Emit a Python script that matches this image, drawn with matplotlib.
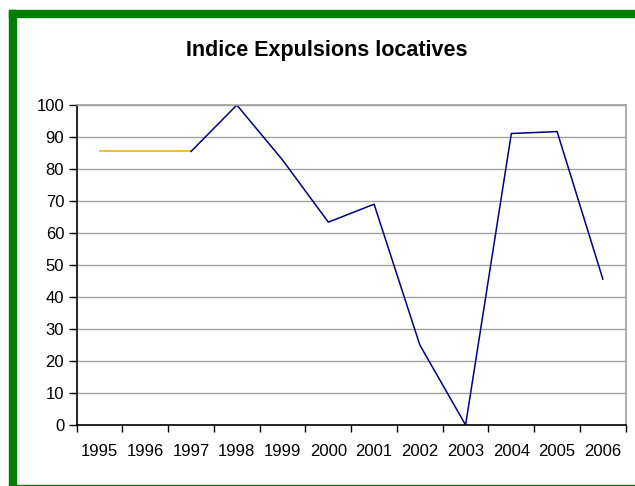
import matplotlib.pyplot as plt
from matplotlib.patches import Rectangle

plt.rcParams['font.family'] = ['Liberation Sans', 'DejaVu Sans']

years = ['1995', '1996', '1997', '1998', '1999', '2000',
         '2001', '2002', '2003', '2004', '2005', '2006']
# flat start segment (orange) and measured index (navy)
base_years = ['1995', '1996', '1997']
base_vals = [85.5, 85.5, 85.5]
idx_years = ['1997', '1998', '1999', '2000', '2001', '2002',
             '2003', '2004', '2005', '2006']
idx_vals = [85.5, 100, 82.8, 63.4, 69, 25, 0, 91.1, 91.7, 45.6]

fig = plt.figure(figsize=(6.35, 4.86), dpi=100)
ax = fig.add_axes([0.1208, 0.1255, 0.8646, 0.6584])

pos = {y: i + 0.5 for i, y in enumerate(years)}
ax.plot([pos[y] for y in base_years], base_vals, color='#FFA500', lw=1.1)
ax.plot([pos[y] for y in idx_years], idx_vals, color='#000080', lw=1.1)

ax.set_xlim(0, len(years))
ax.set_ylim(0, 100)
ax.set_yticks(range(0, 101, 10))
ax.set_xticks(range(0, len(years) + 1))
ax.set_xticklabels([])
ax.set_xticks([i + 0.5 for i in range(len(years))], minor=True)
ax.set_xticklabels(years, minor=True)
ax.tick_params(axis='x', which='major', length=5, width=1, direction='out')
ax.tick_params(axis='x', which='minor', length=0, pad=14, labelsize=12)
ax.tick_params(axis='y', length=6, width=1, direction='out', labelsize=12, pad=3)
ax.yaxis.grid(True, color='#a0a0a0', lw=1)
ax.set_axisbelow(True)

for s in ['left', 'bottom']:
    ax.spines[s].set_color('black')
    ax.spines[s].set_linewidth(1.2)
for s in ['top', 'right']:
    ax.spines[s].set_color('#a0a0a0')
    ax.spines[s].set_linewidth(1.2)

fig.text(0.514, 0.897, 'Indice Expulsions locatives', ha='center', va='center',
         fontsize=15.5, fontweight='bold')

# green frame around the chart
W, H = 635, 486
fig.patches.append(Rectangle((9 / W, 0), 7 / W, 1 - 10 / H, transform=fig.transFigure,
                             color='#008000', zorder=0))
fig.patches.append(Rectangle((9 / W, 1 - 17 / H), 1, 7 / H, transform=fig.transFigure,
                             color='#008000', zorder=0))
fig.patches.append(Rectangle((9 / W, 0), 1, 1.5 / H, transform=fig.transFigure,
                             color='#1a6e1a', zorder=0))

plt.savefig('out.png', dpi=100)
